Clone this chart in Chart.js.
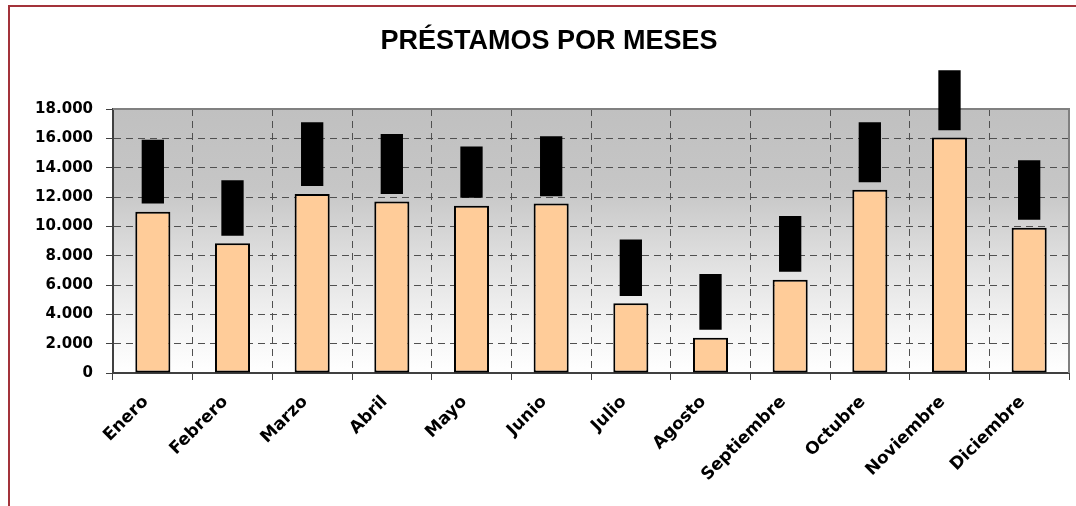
<!DOCTYPE html>
<html>
<head>
<meta charset="utf-8">
<script src="https://cdn.jsdelivr.net/npm/chart.js@4.4.1/dist/chart.umd.min.js"></script>
<style>
    html, body { margin: 0; padding: 0; background: #fff; overflow: hidden; }
    #wrap { position: relative; width: 1076px; height: 506px; }
    #frame {
        position: absolute; left: 8px; top: 5px; right: -10px; bottom: -10px;
        border-left: 2px solid #a3333a; border-top: 2px solid #a3333a;
        pointer-events: none;
    }
</style>
</head>
<body>
<div id="wrap">
    <canvas id="chart-prestamos"></canvas>
    <div id="frame"></div>
</div>
<script>
// Data
const meses = ['Enero', 'Febrero', 'Marzo', 'Abril', 'Mayo', 'Junio', 'Julio',
    'Agosto', 'Septiembre', 'Octubre', 'Noviembre', 'Diciembre'];
const prestamos = [11000, 8850, 12200, 11700, 11400, 11550, 4750, 2400, 6350, 12500, 16050, 9900];
const bloqueDesde = [11550, 9350, 12750, 12200, 11950, 12050, 5250, 2950, 6900, 13000, 16550, 10450];
const bloqueHasta = [15900, 13150, 17100, 16300, 15450, 16150, 9100, 6750, 10700, 17100, 20650, 14500];
const yTicks = [0, 2000, 4000, 6000, 8000, 10000, 12000, 14000, 16000, 18000];

const yFont = { family: '"DejaVu Sans", sans-serif', size: 15, weight: 'bold' };
const xFont = { family: '"DejaVu Sans", sans-serif', size: 17, weight: 'bold' };
const gridColor = '#505050';

// thousands with a dot, like "18.000"
const fmt = (v) => String(v).replace(/\B(?=(\d{3})+(?!\d))/g, '.');

// grey-to-white plot background, Excel style
const plotBackground = {
    id: 'plotBackground',
    beforeDraw(chart) {
        const { ctx, chartArea: a } = chart;
        const g = ctx.createLinearGradient(0, a.top, 0, a.bottom);
        g.addColorStop(0, '#c0c0c0');
        g.addColorStop(0.3, '#c6c6c6');
        g.addColorStop(0.6, '#e2e2e2');
        g.addColorStop(0.85, '#f6f6f6');
        g.addColorStop(1, '#ffffff');
        ctx.save();
        ctx.fillStyle = g;
        ctx.fillRect(a.left, a.top, a.right - a.left, a.bottom - a.top);
        ctx.restore();
    },
    beforeDatasetsDraw(chart) {
        const { ctx, chartArea: a } = chart;
        ctx.save();
        ctx.strokeStyle = '#808080';
        ctx.lineWidth = 2;
        ctx.beginPath();
        ctx.moveTo(a.left, a.top);
        ctx.lineTo(a.right, a.top);
        ctx.lineTo(a.right, a.bottom);
        ctx.stroke();
        ctx.restore();
    }
};

new Chart(document.getElementById('chart-prestamos').getContext('2d'), {
    type: 'bar',
    data: {
        labels: meses,
        datasets: [
            {
                label: 'Préstamos',
                data: prestamos,
                backgroundColor: '#ffcc99',
                borderColor: '#000000',
                borderWidth: 2,
                borderSkipped: false,
                grouped: false,
                categoryPercentage: 1,
                barPercentage: 0.44,
                order: 2
            },
            {
                label: 'Rango',
                data: bloqueDesde.map((d, i) => [d, bloqueHasta[i]]),
                backgroundColor: '#000000',
                borderWidth: 0,
                grouped: false,
                categoryPercentage: 1,
                barPercentage: 0.28,
                clip: false,
                order: 1
            }
        ]
    },
    plugins: [plotBackground],
    options: {
        responsive: true,
        maintainAspectRatio: false,
        animation: false,
        events: [],
        layout: { padding: { left: 29, right: 7, top: 0, bottom: 0 } },
        plugins: {
            legend: { display: false },
            tooltip: { enabled: false },
            title: {
                display: true,
                text: 'PRÉSTAMOS POR MESES',
                color: '#000',
                font: { family: '"Liberation Sans", Arial, sans-serif', size: 27, weight: 'bold' },
                padding: { top: 25, bottom: 51.6 }
            }
        },
        scales: {
            x: {
                afterFit: (s) => { s.height = 133; },
                grid: {
                    color: gridColor, lineWidth: 1, offset: true,
                    tickLength: 7, tickColor: '#404040', tickBorderDash: []
                },
                border: { display: true, color: '#404040', width: 2, dash: [7, 5] },
                ticks: {
                    color: '#000', font: xFont, autoSkip: false,
                    maxRotation: 45, minRotation: 45, padding: 12, labelOffset: -7
                }
            },
            y: {
                min: 0,
                max: 18000,
                afterFit: (s) => { s.width = 84; },
                afterBuildTicks: (s) => { s.ticks = yTicks.map(v => ({ value: v })); },
                grid: {
                    color: gridColor, lineWidth: 1,
                    tickLength: 7, tickColor: '#404040', tickBorderDash: []
                },
                border: { display: true, color: '#404040', width: 2, dash: [7, 5] },
                ticks: {
                    color: '#000', font: yFont, padding: 13,
                    callback: (v) => fmt(v)
                }
            }
        }
    }
});
</script>
</body>
</html>
